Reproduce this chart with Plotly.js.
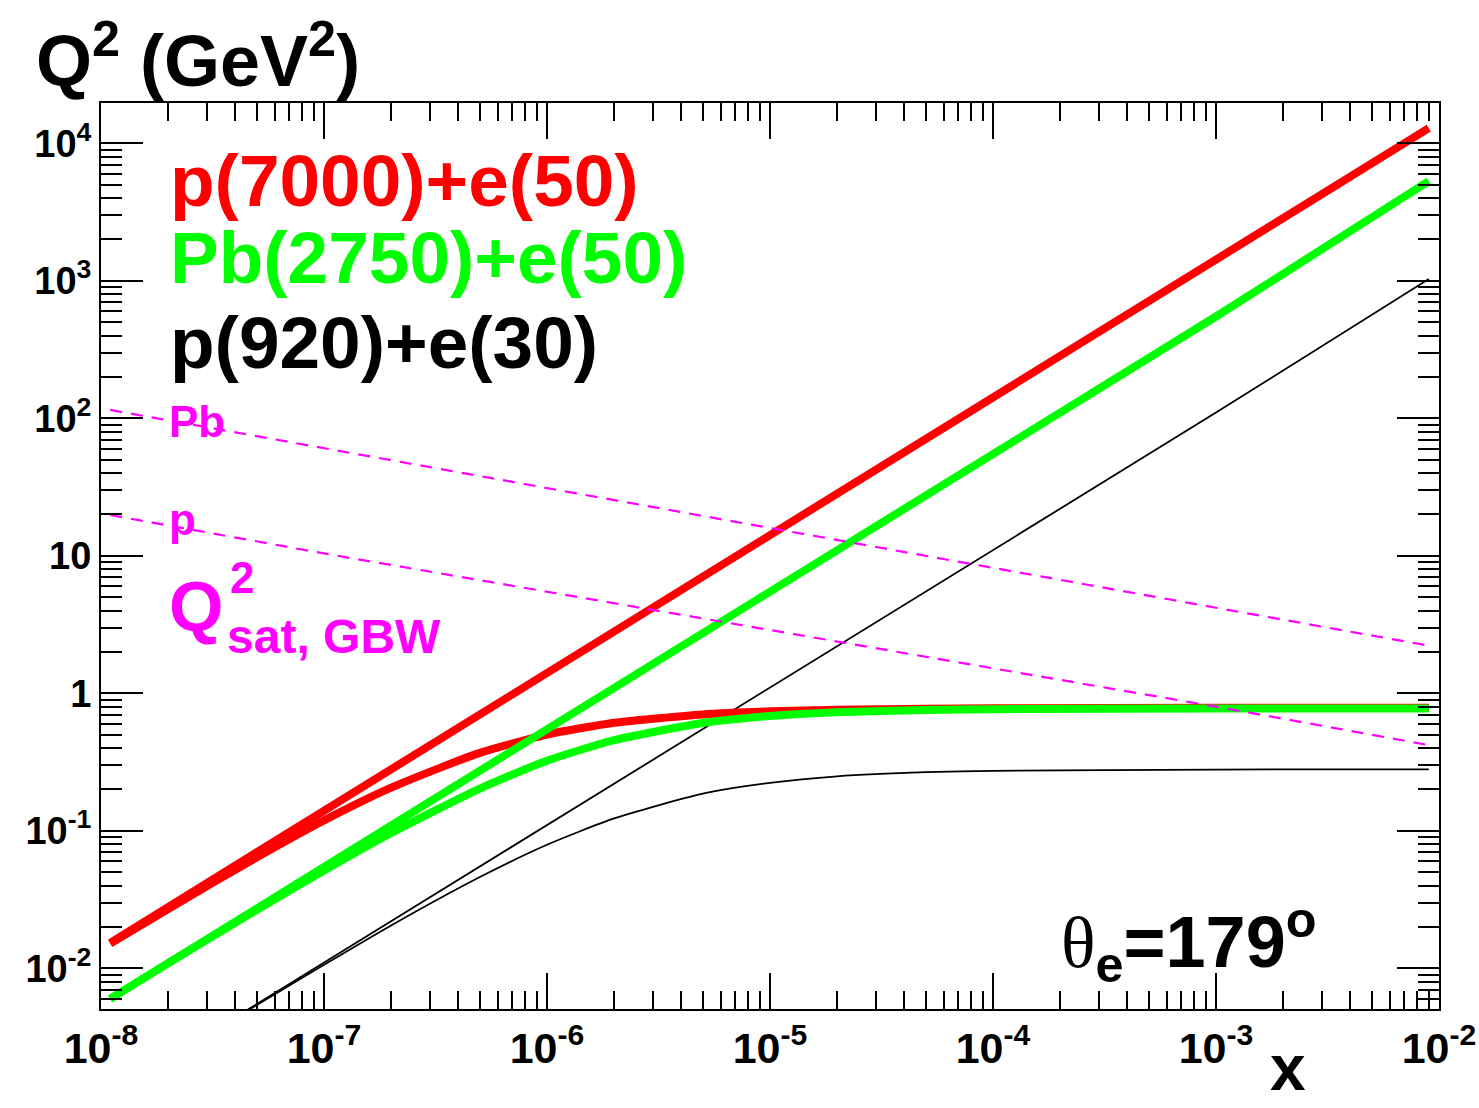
<!DOCTYPE html>
<html>
<head>
<meta charset="utf-8">
<script src="https://cdn.plot.ly/plotly-3.0.1.min.js"></script>
<style>html,body{margin:0;padding:0;background:#fff;}#plot{width:1479px;height:1108px;}</style>
</head>
<body>
<div id="plot"></div>
<script>
// ---- data (x, Q^2 in GeV^2) ----
const xMax = [1.1e-8, 1e-7, 1e-6, 1e-5, 1e-4, 1e-3, 9e-3];
const pLHeC_max  = [0.0153, 0.140, 1.40, 14.0, 140, 1400, 12900];
const PbLHeC_max = [0.0060, 0.055, 0.55, 5.5, 55, 550, 5300];

const xBlackMax = [4e-8, 1e-7, 1e-6, 1e-5, 1e-4, 1e-3, 9e-3];
const pHERA_max = [0.0044, 0.011, 0.11, 1.1, 11, 110, 1030];

const xTheta = [1.1e-8, 2e-8, 5e-8, 1e-7, 2e-7, 5e-7, 1e-6, 2e-6, 5e-6, 1e-5, 2e-5, 5e-5, 1e-4, 1e-3, 9e-3];
const pLHeC_theta  = [0.0151, 0.0270, 0.0642, 0.119, 0.206, 0.369, 0.501, 0.610, 0.702, 0.739, 0.760, 0.772, 0.778, 0.784, 0.785];
const PbLHeC_theta = [0.0060, 0.0109, 0.0266, 0.0514, 0.0964, 0.203, 0.323, 0.456, 0.608, 0.683, 0.728, 0.757, 0.767, 0.774, 0.775];

const xThetaBlack = [4e-8, 5e-8, 1e-7, 2e-7, 5e-7, 1e-6, 2e-6, 5e-6, 1e-5, 2e-5, 5e-5, 1e-4, 1e-3, 9e-3];
const pHERA_theta = [0.00435, 0.00541, 0.0106, 0.0205, 0.0461, 0.0792, 0.123, 0.186, 0.223, 0.249, 0.267, 0.273, 0.279, 0.280];

const xSat = [1.1e-8, 1e-7, 1e-6, 1e-5, 1e-4, 1e-3, 9e-3];
const qsat_p  = [19.8, 10.4, 5.48, 2.89, 1.52, 0.80, 0.42];
const qsat_Pb = [115, 60.5, 31.0, 15.9, 8.17, 4.19, 2.22];

// ---- tick labels ----
const xTickVals = [1e-8, 1e-7, 1e-6, 1e-5, 1e-4, 1e-3, 1e-2];
const xTickText = ['10<sup>-8</sup>', '10<sup>-7</sup>', '10<sup>-6</sup>', '10<sup>-5</sup>', '10<sup>-4</sup>', '10<sup>-3</sup>', '10<sup>-2</sup>'];
const yTickVals = [1e-2, 1e-1, 1, 10, 1e2, 1e3, 1e4];
const yTickText = ['10<sup>-2</sup>', '10<sup>-1</sup>', '1', '10', '10<sup>2</sup>', '10<sup>3</sup>', '10<sup>4</sup>'];

function minorVals(k0, k1) {
  const v = [];
  for (let k = k0; k <= k1; k++) for (let m = 2; m <= 9; m++) v.push(m * Math.pow(10, k));
  return v;
}

const FONT = 'Liberation Sans, Arial, Helvetica, sans-serif';
const RED = '#ff0000', GREEN = '#00ff00', MAG = '#ff00ff';

const traces = [
  {x: xBlackMax, y: pHERA_max, mode: 'lines', line: {color: '#000', width: 1.8}},
  {x: xThetaBlack, y: pHERA_theta, mode: 'lines', line: {color: '#000', width: 1.8, shape: 'spline', smoothing: 0.6}},
  {x: xMax, y: pLHeC_max, mode: 'lines', line: {color: RED, width: 8}},
  {x: xTheta, y: pLHeC_theta, mode: 'lines', line: {color: RED, width: 8, shape: 'spline', smoothing: 0.6}},
  {x: xMax, y: PbLHeC_max, mode: 'lines', line: {color: GREEN, width: 8}},
  {x: xTheta, y: PbLHeC_theta, mode: 'lines', line: {color: GREEN, width: 8, shape: 'spline', smoothing: 0.6}},
  {x: xSat, y: qsat_Pb, mode: 'lines', line: {color: MAG, width: 2.2, dash: '12px,9px'}},
  {x: xSat, y: qsat_p, mode: 'lines', line: {color: MAG, width: 2.2, dash: '12px,9px'}}
];

function ann(text, x, y, size, color, extra) {
  return Object.assign({
    text: text, xref: 'paper', yref: 'paper', x: x, y: y,
    xanchor: 'left', yanchor: 'middle', showarrow: false,
    font: {family: FONT, size: size, color: color, weight: 'bold'}
  }, extra || {});
}

const annotations = [
  ann('Q<sup>2</sup> (GeV<sup>2</sup>)', -0.050, 1.052, 72, '#000'),
  ann('x', 0.872, -0.1075, 64, '#000', {yanchor: 'bottom'}),
  ann('p(7000)+e(50)', 0.050, 0.915, 73, RED),
  ann('Pb(2750)+e(50)', 0.050, 0.829, 73, GREEN),
  ann('p(920)+e(30)', 0.050, 0.736, 73, '#000'),
  ann('Pb', 0.049, 0.648, 44, MAG),
  ann('p', 0.049, 0.540, 44, MAG),
  ann('Q', 0.049, 0.444, 70, MAG),
  ann('2', 0.095, 0.476, 44, MAG),
  ann('sat, GBW', 0.093, 0.411, 48, MAG),
  ann('<span style="font-family:\'Liberation Serif\';font-weight:normal">θ</span><sub>e</sub>=179<sup>o</sup>', 0.716, 0.074, 72, '#000')
];

const axisCommon = {
  type: 'log', showgrid: false, zeroline: false,
  showline: true, linecolor: '#000', linewidth: 2, mirror: 'ticks',
  ticks: 'inside', tickcolor: '#000', tickwidth: 2,
  tickmode: 'array'
};

const layout = {
  width: 1479, height: 1108,
  margin: {l: 101, r: 40, t: 103, b: 99},
  paper_bgcolor: '#fff', plot_bgcolor: '#fff',
  showlegend: false,
  xaxis: Object.assign({}, axisCommon, {
    range: [-8, -2],
    tickvals: xTickVals, ticktext: xTickText, ticklen: 36,
    tickfont: {family: FONT, size: 43, color: '#000', weight: 'bold'},
    minor: {tickmode: 'array', tickvals: minorVals(-8, -3), ticks: 'inside', ticklen: 18, tickwidth: 2, tickcolor: '#000'}
  }),
  yaxis: Object.assign({}, axisCommon, {
    range: [-2.296, 4.293],
    tickvals: yTickVals, ticktext: yTickText, ticklen: 42,
    tickfont: {family: FONT, size: 38, color: '#000', weight: 'bold'},
    minor: {tickmode: 'array', tickvals: minorVals(-3, 4), ticks: 'inside', ticklen: 21, tickwidth: 2, tickcolor: '#000'}
  }),
  annotations: annotations
};

Plotly.newPlot('plot', traces, layout, {displayModeBar: false, staticPlot: true});
</script>
</body>
</html>
